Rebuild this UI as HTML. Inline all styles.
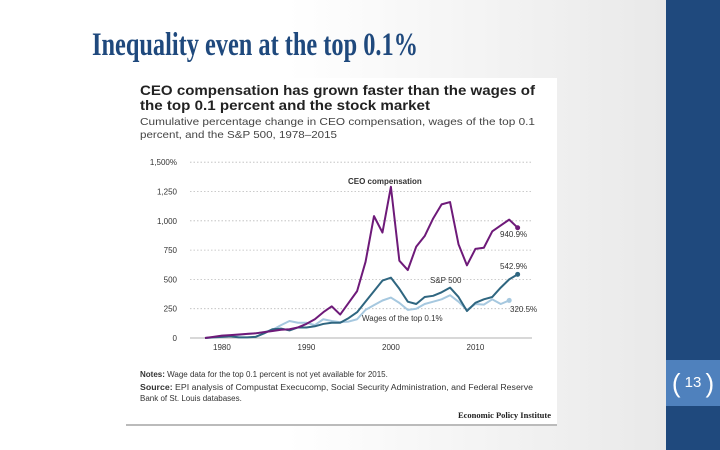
<!DOCTYPE html>
<html><head><meta charset="utf-8"><style>
body{margin:0;width:720px;height:450px;overflow:hidden;position:relative;font-family:"Liberation Sans",sans-serif;background:linear-gradient(90deg,#fff 0%,#fff 40%,#e9e9e9 92%);}
</style></head><body>
<div style="position:absolute;left:666px;top:0;width:54px;height:450px;background:#1f497d"></div>
<div style="position:absolute;left:666px;top:360px;width:54px;height:46px;background:#4f81bd;color:#fff;font-size:15px;text-align:center;line-height:46px">
<span style="font-size:26px;font-weight:100;vertical-align:top">(</span> 13 <span style="font-size:26px;vertical-align:top">)</span></div>
<svg width="720" height="450" style="position:absolute;left:0;top:0">
<text x="92" y="55" font-family="Liberation Serif" font-weight="bold" font-size="33" fill="#1f497d" textLength="326" lengthAdjust="spacingAndGlyphs">Inequality even at the top 0.1%</text>
<rect x="126" y="78" width="431" height="346" fill="#fff"/>
<line x1="126" y1="425" x2="557" y2="425" stroke="#bbb" stroke-width="2"/>
<text x="140" y="95" font-size="13.5" font-weight="bold" fill="#222" textLength="395" lengthAdjust="spacingAndGlyphs">CEO compensation has grown faster than the wages of</text>
<text x="140" y="110" font-size="13.5" font-weight="bold" fill="#222" textLength="290" lengthAdjust="spacingAndGlyphs">the top 0.1 percent and the stock market</text>
<text x="140" y="125" font-size="10.5" fill="#444" textLength="395" lengthAdjust="spacingAndGlyphs">Cumulative percentage change in CEO compensation, wages of the top 0.1</text>
<text x="140" y="138" font-size="10.5" fill="#444" textLength="197" lengthAdjust="spacingAndGlyphs">percent, and the S&amp;P 500, 1978–2015</text>
<g id="chart"></g>
<text x="140" y="377" font-size="8" fill="#333"><tspan font-weight="bold">Notes:</tspan> Wage data for the top 0.1 percent is not yet available for 2015.</text>
<text x="140" y="390" font-size="8" fill="#333" textLength="393" lengthAdjust="spacingAndGlyphs"><tspan font-weight="bold">Source:</tspan> EPI analysis of Compustat Execucomp, Social Security Administration, and Federal Reserve</text>
<text x="140" y="401" font-size="8" fill="#333">Bank of St. Louis databases.</text>
<text x="551" y="418" font-family="Liberation Serif" font-weight="bold" font-size="8.5" fill="#222" text-anchor="end">Economic Policy Institute</text>
</svg>
<script>
const years=[];for(let y=1978;y<=2015;y++)years.push(y);
const ceo=[0,10,20,25,30,35,40,50,60,70,75,90,120,160,220,270,200,300,400,650,1040,900,1290,660,580,780,870,1020,1140,1160,800,620,760,770,910,960,1010,941];
const sp=[0,5,10,15,5,5,10,40,75,80,65,90,90,100,120,130,130,170,220,310,400,490,515,420,310,290,350,360,390,430,350,230,300,330,350,430,500,543];
const wages=[0,5,15,20,25,35,40,50,70,110,145,130,130,110,160,145,135,140,160,240,280,320,345,300,240,250,290,310,330,365,310,240,290,285,330,290,320.5];
const yTicks=[0,250,500,750,1000,1250,1500];
const yTickLabels=["0","250","500","750","1,000","1,250","1,500%"];
const xTicks=[1980,1990,2000,2010];
const ns="http://www.w3.org/2000/svg";
const g=document.getElementById('chart');
const X=y=>205+(y-1978)*8.45, Y=v=>338-v*29.3/250;
function el(t,a){const e=document.createElementNS(ns,t);for(const k in a)e.setAttribute(k,a[k]);g.appendChild(e);return e;}
yTicks.forEach((t,i)=>{
 const l=el('line',{x1:190,x2:532,y1:Y(t),y2:Y(t),stroke:t?'#bbb':'#999','stroke-dasharray':t?'1.5,2':'none','stroke-width':t?0.8:0.8});
 
 
 const tx=el('text',{x:177,y:Y(t)+3,'font-size':8,fill:'#333','text-anchor':'end'});tx.textContent=yTickLabels[i];
 
 
});
xTicks.forEach(t=>{const tx=el('text',{x:X(t),y:350,'font-size':8,fill:'#333','text-anchor':'middle'});tx.textContent=t;
 
 });
function line(d,c,name){const p=el('polyline',{points:d.map((v,i)=>X(years[i])+','+Y(v)).join(' '),fill:'none',stroke:c,'stroke-width':2,'stroke-linejoin':'round'});
 
 
 const n=d.length-1;const dot=el('circle',{cx:X(years[n]),cy:Y(d[n]),r:2.5,fill:c});
 
 }
line(wages,'#a6c8df','wages-line');line(sp,'#2f6680','sp500-line');line(ceo,'#6e1a79','ceo-line');
function lab(txt,x,y,b,name){const t=el('text',{x:x,y:y,'font-size':8,fill:'#333','font-weight':b?'bold':'normal'});t.textContent=txt;
 
 }
lab('CEO compensation',348,184,true,'ceo-label');lab('940.9%',500,237,false,'ceo-end-label');
lab('542.9%',500,269,false,'sp-end-label');lab('S&P 500',430,283,false,'sp-label');
lab('320.5%',510,312,false,'wages-end-label');lab('Wages of the top 0.1%',362,321,false,'wages-label');
</script>
</body></html>
